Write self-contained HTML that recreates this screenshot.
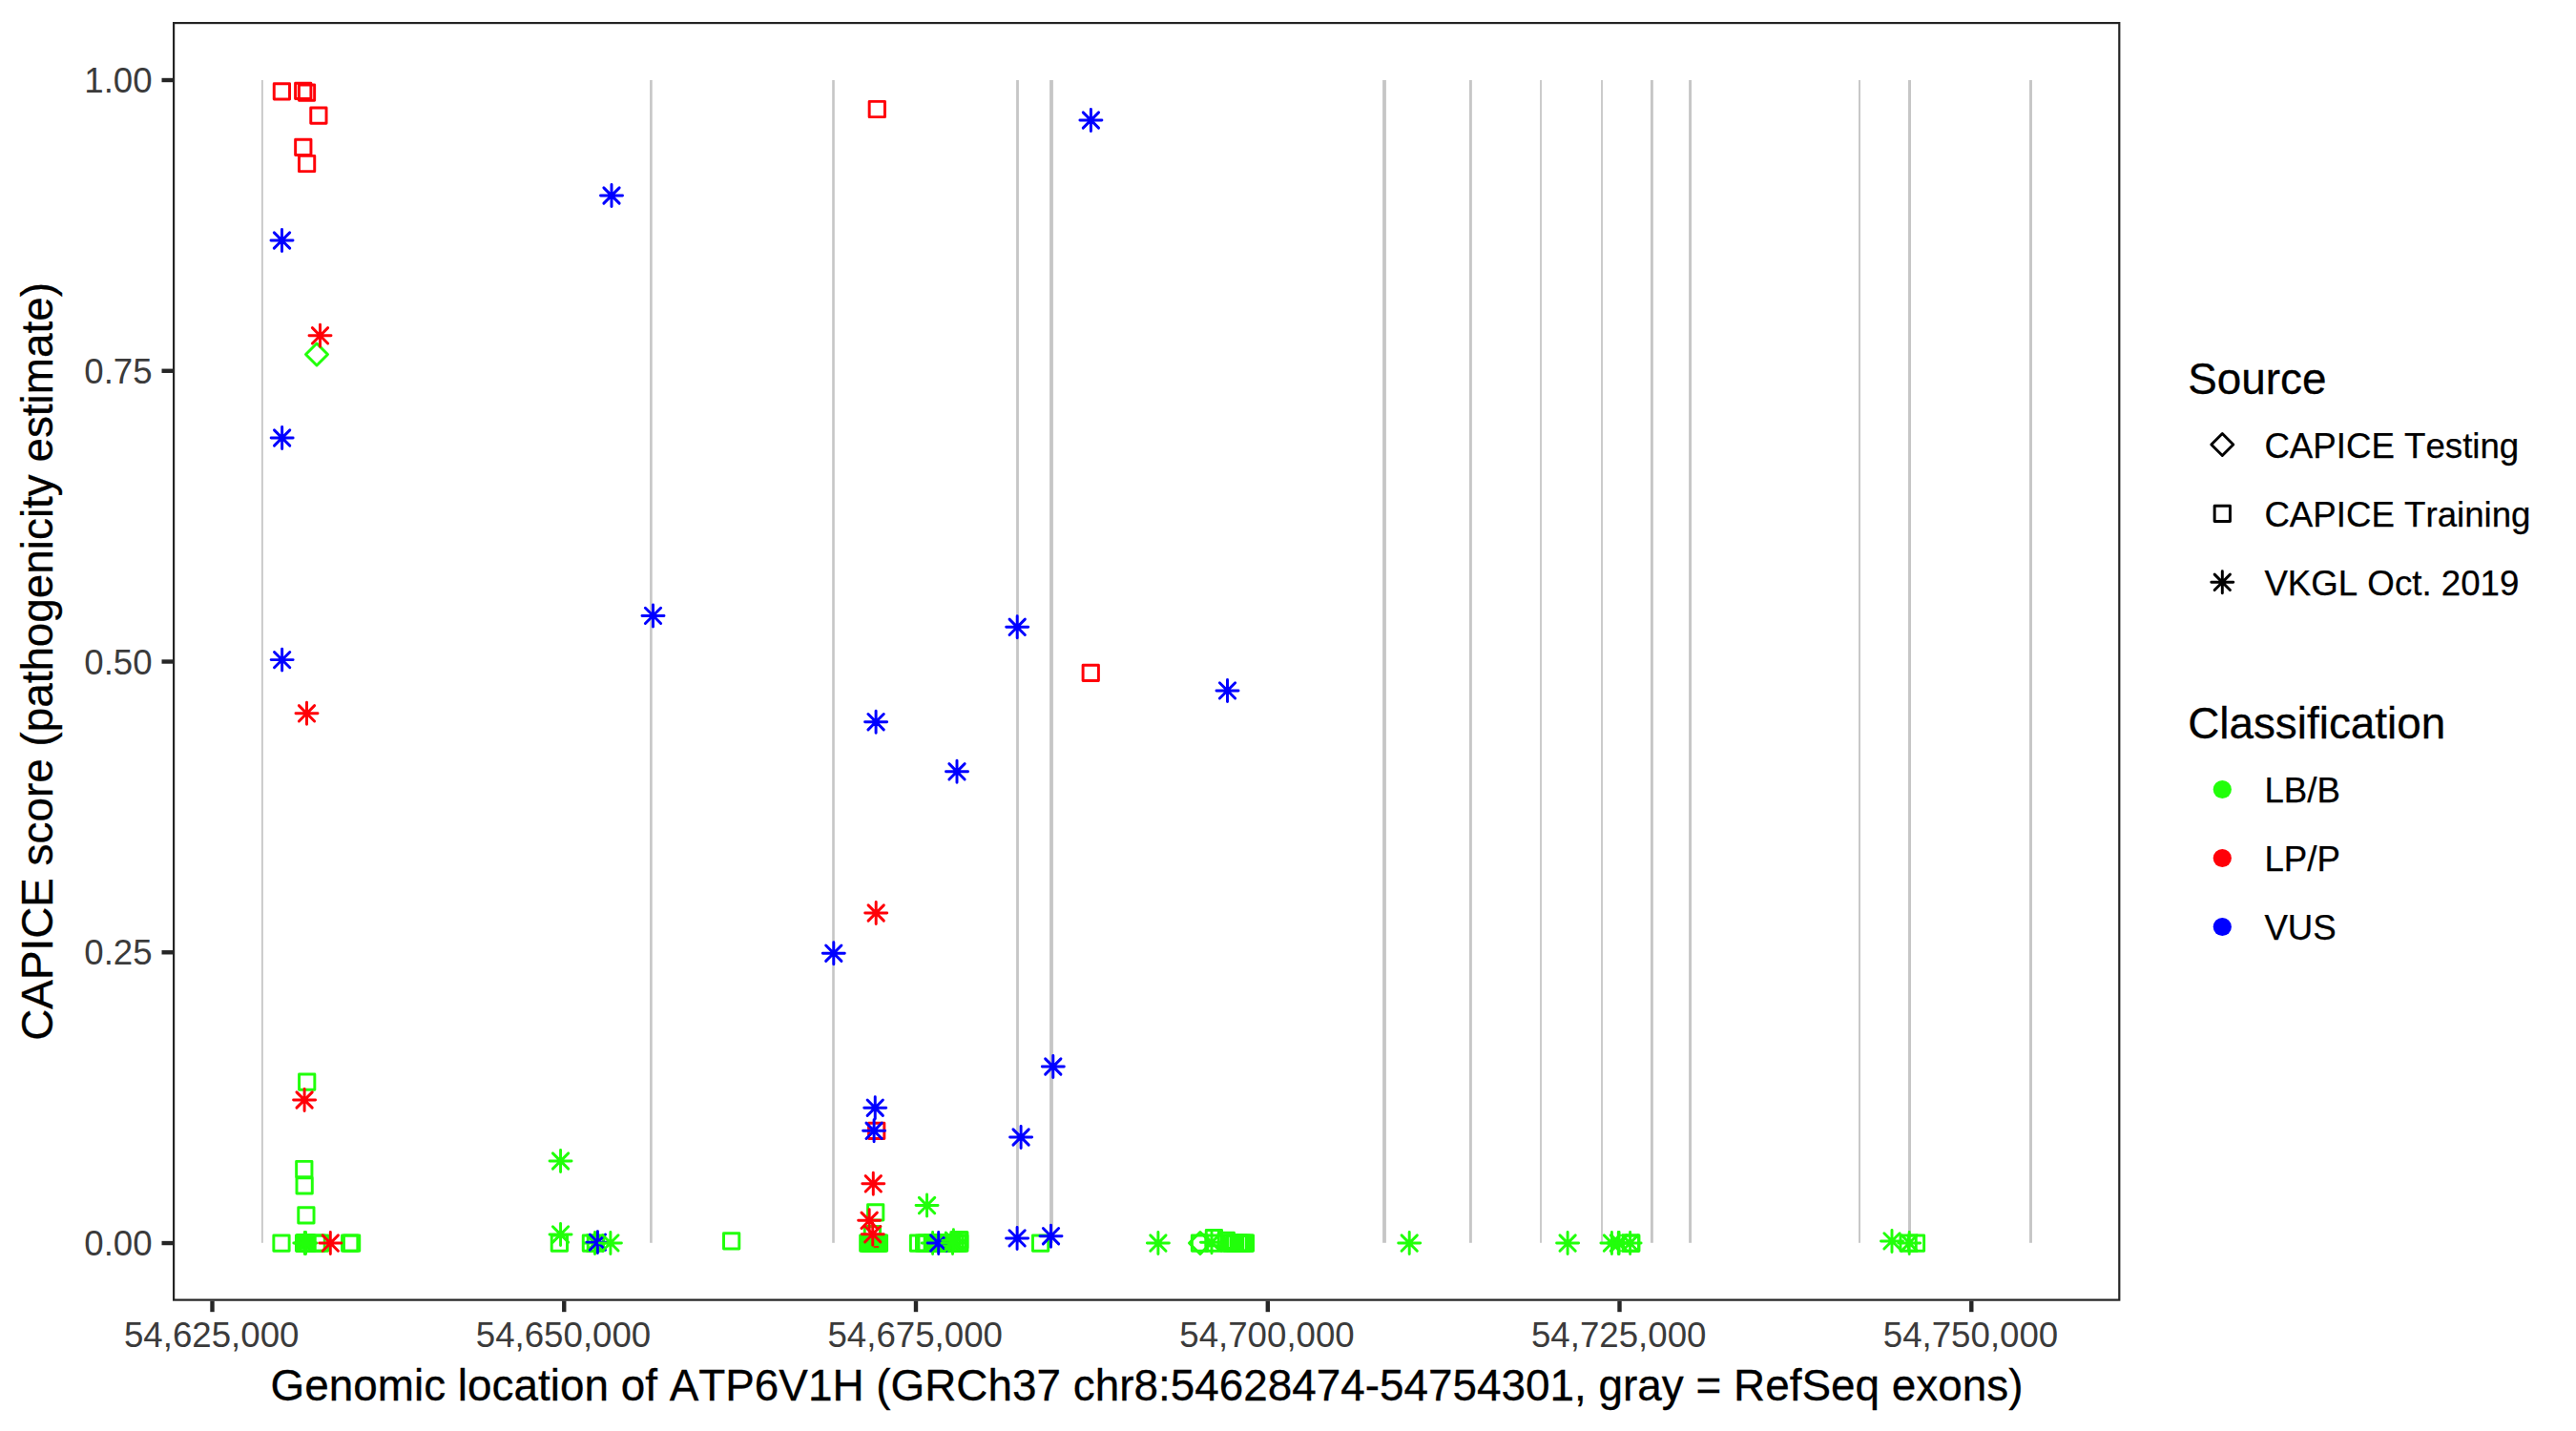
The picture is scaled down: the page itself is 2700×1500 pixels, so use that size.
<!DOCTYPE html>
<html lang="en"><head><meta charset="utf-8"><title>CAPICE score ATP6V1H</title>
<style>html,body{margin:0;padding:0;background:#fff}body{width:2700px;height:1500px;overflow:hidden}svg{display:block}text{font-family:"Liberation Sans",Arial,Helvetica,sans-serif;font-kerning:none}.tk{font-size:36.67px;fill:#3B3B3B}.ti{font-size:45.83px;fill:#000;stroke:#000;stroke-width:.3px}.lg{font-size:36.67px;fill:#000;stroke:#000;stroke-width:.25px}</style></head><body>
<svg width="2700" height="1500" viewBox="0 0 2700 1500">
<rect width="2700" height="1500" fill="#fff"/>
<g fill="#C6C6C6">
<rect x="274.00" y="84.0" width="1.8" height="1218.8"/>
<rect x="681.10" y="84.0" width="2.6" height="1218.8"/>
<rect x="872.20" y="84.0" width="2.6" height="1218.8"/>
<rect x="1065.10" y="84.0" width="2.8" height="1218.8"/>
<rect x="1100.10" y="84.0" width="3.8" height="1218.8"/>
<rect x="1449.10" y="84.0" width="3.8" height="1218.8"/>
<rect x="1539.95" y="84.0" width="2.9" height="1218.8"/>
<rect x="1614.10" y="84.0" width="1.8" height="1218.8"/>
<rect x="1678.10" y="84.0" width="1.8" height="1218.8"/>
<rect x="1729.95" y="84.0" width="2.9" height="1218.8"/>
<rect x="1770.10" y="84.0" width="2.9" height="1218.8"/>
<rect x="1948.05" y="84.0" width="1.9" height="1218.8"/>
<rect x="2000.03" y="84.0" width="2.95" height="1218.8"/>
<rect x="2127.05" y="84.0" width="2.9" height="1218.8"/>
</g>
<g fill="none" stroke-width="2.95" stroke-linecap="round" stroke-linejoin="round">
<rect x="287.26" y="87.66" width="16.28" height="16.28" stroke="#FF0008"/>
<rect x="309.61" y="87.26" width="16.28" height="16.28" stroke="#FF0008"/>
<rect x="313.36" y="89.06" width="16.28" height="16.28" stroke="#FF0008"/>
<rect x="325.76" y="112.96" width="16.28" height="16.28" stroke="#FF0008"/>
<rect x="309.66" y="146.16" width="16.28" height="16.28" stroke="#FF0008"/>
<rect x="313.46" y="163.36" width="16.28" height="16.28" stroke="#FF0008"/>
<rect x="911.16" y="106.36" width="16.28" height="16.28" stroke="#FF0008"/>
<rect x="1135.11" y="697.26" width="16.28" height="16.28" stroke="#FF0008"/>
<rect x="910.56" y="1177.16" width="16.28" height="16.28" stroke="#FF0008"/>
<rect x="313.56" y="1125.96" width="16.28" height="16.28" stroke="#21FF0A"/>
<rect x="310.66" y="1217.36" width="16.28" height="16.28" stroke="#21FF0A"/>
<rect x="311.01" y="1234.76" width="16.28" height="16.28" stroke="#21FF0A"/>
<rect x="312.76" y="1265.76" width="16.28" height="16.28" stroke="#21FF0A"/>
<rect x="286.86" y="1294.91" width="16.28" height="16.28" stroke="#21FF0A"/>
<rect x="310.46" y="1294.91" width="16.28" height="16.28" stroke="#21FF0A"/>
<rect x="311.46" y="1294.91" width="16.28" height="16.28" stroke="#21FF0A"/>
<rect x="312.26" y="1294.91" width="16.28" height="16.28" stroke="#21FF0A"/>
<rect x="313.16" y="1294.91" width="16.28" height="16.28" stroke="#21FF0A"/>
<rect x="313.96" y="1294.91" width="16.28" height="16.28" stroke="#21FF0A"/>
<rect x="323.96" y="1294.91" width="16.28" height="16.28" stroke="#21FF0A"/>
<rect x="327.36" y="1294.91" width="16.28" height="16.28" stroke="#21FF0A"/>
<rect x="358.56" y="1294.91" width="16.28" height="16.28" stroke="#21FF0A"/>
<rect x="360.46" y="1294.91" width="16.28" height="16.28" stroke="#21FF0A"/>
<rect x="578.21" y="1294.91" width="16.28" height="16.28" stroke="#21FF0A"/>
<rect x="611.26" y="1294.91" width="16.28" height="16.28" stroke="#21FF0A"/>
<rect x="616.21" y="1294.91" width="16.28" height="16.28" stroke="#21FF0A"/>
<rect x="758.51" y="1292.76" width="16.28" height="16.28" stroke="#21FF0A"/>
<rect x="909.56" y="1262.76" width="16.28" height="16.28" stroke="#21FF0A"/>
<rect x="906.26" y="1285.56" width="16.28" height="16.28" stroke="#21FF0A"/>
<rect x="901.66" y="1294.91" width="16.28" height="16.28" stroke="#21FF0A"/>
<rect x="903.06" y="1294.91" width="16.28" height="16.28" stroke="#21FF0A"/>
<rect x="904.36" y="1294.91" width="16.28" height="16.28" stroke="#21FF0A"/>
<rect x="905.26" y="1294.91" width="16.28" height="16.28" stroke="#21FF0A"/>
<rect x="907.06" y="1294.91" width="16.28" height="16.28" stroke="#21FF0A"/>
<rect x="908.86" y="1294.91" width="16.28" height="16.28" stroke="#21FF0A"/>
<rect x="910.66" y="1294.91" width="16.28" height="16.28" stroke="#21FF0A"/>
<rect x="912.06" y="1294.91" width="16.28" height="16.28" stroke="#21FF0A"/>
<rect x="913.31" y="1294.91" width="16.28" height="16.28" stroke="#21FF0A"/>
<rect x="954.36" y="1294.91" width="16.28" height="16.28" stroke="#21FF0A"/>
<rect x="960.46" y="1294.91" width="16.28" height="16.28" stroke="#21FF0A"/>
<rect x="962.96" y="1294.91" width="16.28" height="16.28" stroke="#21FF0A"/>
<rect x="969.16" y="1294.91" width="16.28" height="16.28" stroke="#21FF0A"/>
<rect x="971.86" y="1294.91" width="16.28" height="16.28" stroke="#21FF0A"/>
<rect x="974.86" y="1294.91" width="16.28" height="16.28" stroke="#21FF0A"/>
<rect x="977.86" y="1294.91" width="16.28" height="16.28" stroke="#21FF0A"/>
<rect x="980.86" y="1294.91" width="16.28" height="16.28" stroke="#21FF0A"/>
<rect x="983.86" y="1294.91" width="16.28" height="16.28" stroke="#21FF0A"/>
<rect x="986.86" y="1294.91" width="16.28" height="16.28" stroke="#21FF0A"/>
<rect x="989.86" y="1294.91" width="16.28" height="16.28" stroke="#21FF0A"/>
<rect x="992.86" y="1294.91" width="16.28" height="16.28" stroke="#21FF0A"/>
<rect x="995.86" y="1294.91" width="16.28" height="16.28" stroke="#21FF0A"/>
<rect x="997.66" y="1294.91" width="16.28" height="16.28" stroke="#21FF0A"/>
<rect x="996.76" y="1291.66" width="16.28" height="16.28" stroke="#21FF0A"/>
<rect x="997.66" y="1291.66" width="16.28" height="16.28" stroke="#21FF0A"/>
<rect x="1082.46" y="1294.91" width="16.28" height="16.28" stroke="#21FF0A"/>
<rect x="1249.36" y="1294.91" width="16.28" height="16.28" stroke="#21FF0A"/>
<rect x="1263.86" y="1294.91" width="16.28" height="16.28" stroke="#21FF0A"/>
<rect x="1280.11" y="1294.91" width="16.28" height="16.28" stroke="#21FF0A"/>
<rect x="1283.06" y="1294.91" width="16.28" height="16.28" stroke="#21FF0A"/>
<rect x="1286.26" y="1294.91" width="16.28" height="16.28" stroke="#21FF0A"/>
<rect x="1290.16" y="1294.91" width="16.28" height="16.28" stroke="#21FF0A"/>
<rect x="1293.26" y="1294.91" width="16.28" height="16.28" stroke="#21FF0A"/>
<rect x="1296.26" y="1294.91" width="16.28" height="16.28" stroke="#21FF0A"/>
<rect x="1297.26" y="1294.91" width="16.28" height="16.28" stroke="#21FF0A"/>
<rect x="1277.16" y="1292.16" width="16.28" height="16.28" stroke="#21FF0A"/>
<rect x="1264.26" y="1289.46" width="16.28" height="16.28" stroke="#21FF0A"/>
<rect x="1701.26" y="1294.91" width="16.28" height="16.28" stroke="#21FF0A"/>
<rect x="1701.66" y="1294.91" width="16.28" height="16.28" stroke="#21FF0A"/>
<rect x="1991.96" y="1294.91" width="16.28" height="16.28" stroke="#21FF0A"/>
<rect x="2000.36" y="1294.91" width="16.28" height="16.28" stroke="#21FF0A"/>
<rect x="312" y="1296.5" width="17" height="13" fill="#21FF0A" stroke="none"/>
<rect x="903" y="1296.5" width="24" height="13" fill="#21FF0A" stroke="none"/>
<rect x="1279" y="1296.5" width="9.25" height="13" fill="#21FF0A" stroke="none"/>
<rect x="1288.95" y="1296.5" width="15.20" height="13" fill="#21FF0A" stroke="none"/>
<rect x="1304.85" y="1296.5" width="7.15" height="13" fill="#21FF0A" stroke="none"/>
<path d="M320.50 371.50L332.00 360.00L343.50 371.50L332.00 383.00Z" stroke="#21FF0A"/>
<path d="M1246.46 1303.05L1257.96 1291.55L1269.46 1303.05L1257.96 1314.55Z" stroke="#21FF0A"/>
<path d="M576.05 1217.00H599.05M587.55 1205.50V1228.50M579.41 1208.86L595.69 1225.14M579.41 1225.14L595.69 1208.86" stroke="#21FF0A"/>
<path d="M576.05 1293.95H599.05M587.55 1282.45V1305.45M579.41 1285.81L595.69 1302.09M579.41 1302.09L595.69 1285.81" stroke="#21FF0A"/>
<path d="M307.80 1303.05H330.80M319.30 1291.55V1314.55M311.16 1294.91L327.44 1311.19M311.16 1311.19L327.44 1294.91" stroke="#21FF0A"/>
<path d="M309.00 1303.05H332.00M320.50 1291.55V1314.55M312.36 1294.91L328.64 1311.19M312.36 1311.19L328.64 1294.91" stroke="#21FF0A"/>
<path d="M612.00 1303.05H635.00M623.50 1291.55V1314.55M615.36 1294.91L631.64 1311.19M615.36 1311.19L631.64 1294.91" stroke="#21FF0A"/>
<path d="M960.05 1263.55H983.05M971.55 1252.05V1275.05M963.41 1255.41L979.69 1271.69M963.41 1271.69L979.69 1255.41" stroke="#21FF0A"/>
<path d="M966.10 1303.05H989.10M977.60 1291.55V1314.55M969.46 1294.91L985.74 1311.19M969.46 1311.19L985.74 1294.91" stroke="#21FF0A"/>
<path d="M1202.40 1303.05H1225.40M1213.90 1291.55V1314.55M1205.76 1294.91L1222.04 1311.19M1205.76 1311.19L1222.04 1294.91" stroke="#21FF0A"/>
<path d="M1258.50 1302.30H1281.50M1270.00 1290.80V1313.80M1261.86 1294.16L1278.14 1310.44M1261.86 1310.44L1278.14 1294.16" stroke="#21FF0A"/>
<path d="M1465.70 1303.05H1488.70M1477.20 1291.55V1314.55M1469.06 1294.91L1485.34 1311.19M1469.06 1311.19L1485.34 1294.91" stroke="#21FF0A"/>
<path d="M1631.60 1303.05H1654.60M1643.10 1291.55V1314.55M1634.96 1294.91L1651.24 1311.19M1634.96 1311.19L1651.24 1294.91" stroke="#21FF0A"/>
<path d="M1677.90 1303.05H1700.90M1689.40 1291.55V1314.55M1681.26 1294.91L1697.54 1311.19M1681.26 1311.19L1697.54 1294.91" stroke="#21FF0A"/>
<path d="M1684.80 1303.05H1707.80M1696.30 1291.55V1314.55M1688.16 1294.91L1704.44 1311.19M1688.16 1311.19L1704.44 1294.91" stroke="#21FF0A"/>
<path d="M1685.55 1303.05H1708.55M1697.05 1291.55V1314.55M1688.91 1294.91L1705.19 1311.19M1688.91 1311.19L1705.19 1294.91" stroke="#21FF0A"/>
<path d="M1697.10 1303.05H1720.10M1708.60 1291.55V1314.55M1700.46 1294.91L1716.74 1311.19M1700.46 1311.19L1716.74 1294.91" stroke="#21FF0A"/>
<path d="M1971.50 1300.90H1994.50M1983.00 1289.40V1312.40M1974.86 1292.76L1991.14 1309.04M1974.86 1309.04L1991.14 1292.76" stroke="#21FF0A"/>
<path d="M1989.70 1302.95H2012.70M2001.20 1291.45V1314.45M1993.06 1294.81L2009.34 1311.09M1993.06 1311.09L2009.34 1294.81" stroke="#21FF0A"/>
<path d="M324.00 351.80H347.00M335.50 340.30V363.30M327.36 343.66L343.64 359.94M327.36 359.94L343.64 343.66" stroke="#FF0008"/>
<path d="M310.00 747.80H333.00M321.50 736.30V759.30M313.36 739.66L329.64 755.94M313.36 755.94L329.64 739.66" stroke="#FF0008"/>
<path d="M307.60 1153.00H330.60M319.10 1141.50V1164.50M310.96 1144.86L327.24 1161.14M310.96 1161.14L327.24 1144.86" stroke="#FF0008"/>
<path d="M334.80 1303.05H357.80M346.30 1291.55V1314.55M338.16 1294.91L354.44 1311.19M338.16 1311.19L354.44 1294.91" stroke="#FF0008"/>
<path d="M906.70 957.00H929.70M918.20 945.50V968.50M910.06 948.86L926.34 965.14M910.06 965.14L926.34 948.86" stroke="#FF0008"/>
<path d="M903.80 1240.80H926.80M915.30 1229.30V1252.30M907.16 1232.66L923.44 1248.94M907.16 1248.94L923.44 1232.66" stroke="#FF0008"/>
<path d="M899.65 1279.30H922.65M911.15 1267.80V1290.80M903.01 1271.16L919.29 1287.44M903.01 1287.44L919.29 1271.16" stroke="#FF0008"/>
<path d="M903.25 1293.70H926.25M914.75 1282.20V1305.20M906.61 1285.56L922.89 1301.84M906.61 1301.84L922.89 1285.56" stroke="#FF0008"/>
<path d="M284.00 252.00H307.00M295.50 240.50V263.50M287.36 243.86L303.64 260.14M287.36 260.14L303.64 243.86" stroke="#0000FF"/>
<path d="M284.15 459.00H307.15M295.65 447.50V470.50M287.51 450.86L303.79 467.14M287.51 467.14L303.79 450.86" stroke="#0000FF"/>
<path d="M284.15 691.60H307.15M295.65 680.10V703.10M287.51 683.46L303.79 699.74M287.51 699.74L303.79 683.46" stroke="#0000FF"/>
<path d="M629.50 205.00H652.50M641.00 193.50V216.50M632.86 196.86L649.14 213.14M632.86 213.14L649.14 196.86" stroke="#0000FF"/>
<path d="M673.00 645.40H696.00M684.50 633.90V656.90M676.36 637.26L692.64 653.54M676.36 653.54L692.64 637.26" stroke="#0000FF"/>
<path d="M906.60 756.70H929.60M918.10 745.20V768.20M909.96 748.56L926.24 764.84M909.96 764.84L926.24 748.56" stroke="#0000FF"/>
<path d="M991.50 808.80H1014.50M1003.00 797.30V820.30M994.86 800.66L1011.14 816.94M994.86 816.94L1011.14 800.66" stroke="#0000FF"/>
<path d="M1054.70 657.30H1077.70M1066.20 645.80V668.80M1058.06 649.16L1074.34 665.44M1058.06 665.44L1074.34 649.16" stroke="#0000FF"/>
<path d="M862.30 999.20H885.30M873.80 987.70V1010.70M865.66 991.06L881.94 1007.34M865.66 1007.34L881.94 991.06" stroke="#0000FF"/>
<path d="M1092.30 1118.00H1115.30M1103.80 1106.50V1129.50M1095.66 1109.86L1111.94 1126.14M1095.66 1126.14L1111.94 1109.86" stroke="#0000FF"/>
<path d="M905.75 1161.20H928.75M917.25 1149.70V1172.70M909.11 1153.06L925.39 1169.34M909.11 1169.34L925.39 1153.06" stroke="#0000FF"/>
<path d="M904.60 1185.30H927.60M916.10 1173.80V1196.80M907.96 1177.16L924.24 1193.44M907.96 1193.44L924.24 1177.16" stroke="#0000FF"/>
<path d="M1058.60 1192.00H1081.60M1070.10 1180.50V1203.50M1061.96 1183.86L1078.24 1200.14M1061.96 1200.14L1078.24 1183.86" stroke="#0000FF"/>
<path d="M1131.90 126.00H1154.90M1143.40 114.50V137.50M1135.26 117.86L1151.54 134.14M1135.26 134.14L1151.54 117.86" stroke="#0000FF"/>
<path d="M1275.00 723.90H1298.00M1286.50 712.40V735.40M1278.36 715.76L1294.64 732.04M1278.36 732.04L1294.64 715.76" stroke="#0000FF"/>
<path d="M1054.60 1297.90H1077.60M1066.10 1286.40V1309.40M1057.96 1289.76L1074.24 1306.04M1057.96 1306.04L1074.24 1289.76" stroke="#0000FF"/>
<path d="M1090.00 1295.70H1113.00M1101.50 1284.20V1307.20M1093.36 1287.56L1109.64 1303.84M1093.36 1303.84L1109.64 1287.56" stroke="#0000FF"/>
<path d="M614.90 1302.10H637.90M626.40 1290.60V1313.60M618.26 1293.96L634.54 1310.24M618.26 1310.24L634.54 1293.96" stroke="#0000FF"/>
<path d="M972.20 1303.05H995.20M983.70 1291.55V1314.55M975.56 1294.91L991.84 1311.19M975.56 1311.19L991.84 1294.91" stroke="#0000FF"/>
<path d="M915.6 1307H921" stroke="#FF0008" stroke-width="1.6" stroke-linecap="butt"/>
<path d="M628.40 1302.90H651.40M639.90 1291.40V1314.40M631.76 1294.76L648.04 1311.04M631.76 1311.04L648.04 1294.76" stroke="#21FF0A"/>
<path d="M987.00 1303.05H1010.00M998.50 1291.55V1314.55M990.36 1294.91L1006.64 1311.19M990.36 1311.19L1006.64 1294.91" stroke="#21FF0A"/>
<path d="M987.90 1300.20H1010.90M999.40 1288.70V1311.70M991.26 1292.06L1007.54 1308.34M991.26 1308.34L1007.54 1292.06" stroke="#21FF0A"/>
</g>
<rect x="182.1" y="24.1" width="2039.2" height="1338.5" fill="none" stroke="#242424" stroke-width="2.2"/>
<g stroke="#262626" stroke-width="4.4">
<line x1="222.5" y1="1363.7" x2="222.5" y2="1375.2"/>
<line x1="591.26" y1="1363.7" x2="591.26" y2="1375.2"/>
<line x1="960.0" y1="1363.7" x2="960.0" y2="1375.2"/>
<line x1="1328.8" y1="1363.7" x2="1328.8" y2="1375.2"/>
<line x1="1697.5" y1="1363.7" x2="1697.5" y2="1375.2"/>
<line x1="2066.3" y1="1363.7" x2="2066.3" y2="1375.2"/>
<line x1="169.5" y1="1303.05" x2="181.0" y2="1303.05"/>
<line x1="169.5" y1="998.29" x2="181.0" y2="998.29"/>
<line x1="169.5" y1="693.52" x2="181.0" y2="693.52"/>
<line x1="169.5" y1="388.76" x2="181.0" y2="388.76"/>
<line x1="169.5" y1="84.00" x2="181.0" y2="84.00"/>
</g>
<g class="tk" text-anchor="middle">
<text x="221.7" y="1412.1">54,625,000</text>
<text x="590.5" y="1412.1">54,650,000</text>
<text x="959.2" y="1412.1">54,675,000</text>
<text x="1328.0" y="1412.1">54,700,000</text>
<text x="1696.7" y="1412.1">54,725,000</text>
<text x="2065.5" y="1412.1">54,750,000</text>
</g><g class="tk" text-anchor="end">
<text x="159.6" y="1316.0">0.00</text>
<text x="159.6" y="1011.3">0.25</text>
<text x="159.6" y="706.5">0.50</text>
<text x="159.6" y="401.8">0.75</text>
<text x="159.6" y="97.0">1.00</text>
</g>
<text class="ti" x="283.6" y="1467.5" textLength="1836.8" lengthAdjust="spacing">Genomic location of ATP6V1H (GRCh37 chr8:54628474-54754301, gray = RefSeq exons)</text>
<text class="ti" text-anchor="middle" transform="translate(55.2 693.4) rotate(-90)">CAPICE score (pathogenicity estimate)</text>
<text class="ti" x="2293.2" y="413.3">Source</text>
<g fill="none" stroke="#000" stroke-width="2.95" stroke-linecap="round" stroke-linejoin="round">
<path d="M2317.80 466.00L2329.30 454.50L2340.80 466.00L2329.30 477.50Z" stroke="#000"/>
<rect x="2321.16" y="530.26" width="16.28" height="16.28" stroke="#000"/>
<path d="M2317.80 610.30H2340.80M2329.30 598.80V621.80M2321.16 602.16L2337.44 618.44M2321.16 618.44L2337.44 602.16" stroke="#000"/>
</g>
<text class="lg" x="2373.4" y="480.2">CAPICE Testing</text>
<text class="lg" x="2373.4" y="552.2">CAPICE Training</text>
<text class="lg" x="2373.4" y="624.0">VKGL Oct. 2019</text>
<text class="ti" x="2293.2" y="774.0">Classification</text>
<circle cx="2329.3" cy="827.5" r="9.6" fill="#21FF0A"/>
<text class="lg" x="2373.4" y="841.2">LB/B</text>
<circle cx="2329.3" cy="899.5" r="9.6" fill="#FF0008"/>
<text class="lg" x="2373.4" y="913.2">LP/P</text>
<circle cx="2329.3" cy="971.5" r="9.6" fill="#0000FF"/>
<text class="lg" x="2373.4" y="985.2">VUS</text>
</svg></body></html>
